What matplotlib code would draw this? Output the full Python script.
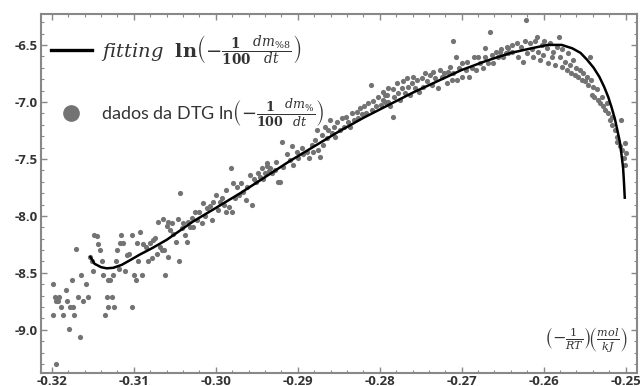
import numpy as np
import matplotlib
matplotlib.use("Agg")
import matplotlib.pyplot as plt
from matplotlib.lines import Line2D
from matplotlib.ticker import MultipleLocator

plt.rcParams["mathtext.fontset"] = "dejavuserif"

# DTG data points, (-1/RT, ln(-1/100 dm/dt))
dtg_x = [
    -0.3199, -0.3196, -0.3199, -0.3195, -0.3193, -0.3189, -0.3187, -0.3183, -0.3182, -0.3179,
    -0.3178, -0.3176, -0.3174, -0.3173, -0.3171, -0.3168, -0.3166, -0.3165, -0.3162, -0.3159,
    -0.3156, -0.3154, -0.3151, -0.3150, -0.3149, -0.3145, -0.3144, -0.3141, -0.3139, -0.3138,
    -0.3135, -0.3133, -0.3132, -0.3129, -0.3132, -0.3127, -0.3124, -0.3126, -0.3122, -0.3121,
    -0.3118, -0.3116, -0.3117, -0.3113, -0.3111, -0.3109, -0.3106, -0.3102, -0.3102, -0.3100,
    -0.3098, -0.3096, -0.3095, -0.3093, -0.3090, -0.3089, -0.3085, -0.3083, -0.3080, -0.3078,
    -0.3074, -0.3072, -0.3068, -0.3062, -0.3063, -0.3058, -0.3195, -0.3191,
    # -0.305 .. -0.292
    -0.3045, -0.3058, -0.3066, -0.3077, -0.3071, -0.3065, -0.3060, -0.3056, -0.3054, -0.3052,
    -0.3049, -0.3046, -0.3044, -0.3041, -0.3040, -0.3038, -0.3035, -0.3034, -0.3032, -0.3029,
    -0.3028, -0.3026, -0.3023, -0.3021, -0.3017, -0.3016, -0.3013, -0.3011, -0.3007, -0.3005,
    -0.3004, -0.3000, -0.2997, -0.2995, -0.2993, -0.2990, -0.2988, -0.2987, -0.2984, -0.2982,
    -0.2980, -0.2979, -0.2977, -0.2974, -0.2972, -0.2969, -0.2967, -0.2963, -0.2962, -0.2958,
    -0.2956, -0.2954, -0.2951, -0.2949, -0.2946, -0.2943, -0.2940, -0.2938, -0.2935, -0.2932,
    -0.2928, -0.2924,
    # -0.294 .. -0.279
    -0.2944, -0.2938, -0.2934, -0.2926, -0.2922, -0.2919, -0.2918, -0.2913, -0.2910, -0.2907,
    -0.2906, -0.2901, -0.2900, -0.2895, -0.2894, -0.2889, -0.2886, -0.2883, -0.2882, -0.2879,
    -0.2877, -0.2875, -0.2873, -0.2871, -0.2869, -0.2867, -0.2864, -0.2863, -0.2861, -0.2858,
    -0.2856, -0.2854, -0.2852, -0.2849, -0.2846, -0.2844, -0.2841, -0.2839, -0.2836, -0.2834,
    -0.2832, -0.2828, -0.2827, -0.2824, -0.2822, -0.2819, -0.2817, -0.2814, -0.2811, -0.2810,
    -0.2808, -0.2805, -0.2802, -0.2799, -0.2796, -0.2793, -0.2790,
    # -0.280 .. -0.264
    -0.2796, -0.2794, -0.2791, -0.2788, -0.2784, -0.2790, -0.2784, -0.2782, -0.2779, -0.2778,
    -0.2775, -0.2773, -0.2772, -0.2769, -0.2767, -0.2766, -0.2763, -0.2761, -0.2760, -0.2757,
    -0.2755, -0.2752, -0.2749, -0.2747, -0.2745, -0.2742, -0.2739, -0.2736, -0.2735, -0.2732,
    -0.2729, -0.2727, -0.2724, -0.2722, -0.2718, -0.2717, -0.2714, -0.2712, -0.2711, -0.2710,
    -0.2707, -0.2706, -0.2703, -0.2700, -0.2699, -0.2695, -0.2694, -0.2691, -0.2688, -0.2685,
    -0.2683, -0.2680, -0.2678, -0.2674, -0.2672, -0.2671, -0.2668, -0.2666, -0.2663, -0.2662,
    -0.2658, -0.2656, -0.2652, -0.2650, -0.2646, -0.2644,
    # -0.265 .. -0.250
    -0.2622, -0.2653, -0.2645, -0.2644, -0.2639, -0.2638, -0.2633, -0.2631, -0.2627, -0.2625,
    -0.2623, -0.2620, -0.2617, -0.2614, -0.2613, -0.2611, -0.2608, -0.2607, -0.2605, -0.2602,
    -0.2601, -0.2599, -0.2596, -0.2595, -0.2592, -0.2590, -0.2589, -0.2586, -0.2584, -0.2581,
    -0.2580, -0.2578, -0.2577, -0.2574, -0.2572, -0.2570, -0.2568, -0.2566, -0.2564, -0.2562,
    -0.2560, -0.2558, -0.2556, -0.2553, -0.2552, -0.2550, -0.2547, -0.2546, -0.2544, -0.2542,
    -0.2541, -0.2540, -0.2538, -0.2535, -0.2534, -0.2531, -0.2529, -0.2528, -0.2525, -0.2523,
    -0.2522, -0.2519, -0.2517, -0.2516, -0.2513, -0.2511, -0.2510, -0.2505, -0.2507, -0.2504,
    -0.2502, -0.2501, -0.2499, -0.2501,
]
dtg_y = [
    -8.60, -8.71, -8.87, -9.30, -8.75, -8.80, -8.87, -8.65, -8.75, -8.99,
    -8.80, -8.56, -8.80, -8.87, -8.29, -8.71, -9.06, -8.52, -8.75, -8.60,
    -8.71, -8.36, -8.40, -8.48, -8.17, -8.18, -8.25, -8.30, -8.40, -8.52,
    -8.87, -8.71, -8.56, -8.56, -8.80, -8.71, -8.80, -8.52, -8.40, -8.30,
    -8.47, -8.17, -8.24, -8.24, -8.48, -8.34, -8.33, -8.80, -8.17, -8.52,
    -8.56, -8.24, -8.40, -8.14, -8.52, -8.25, -8.27, -8.40, -8.24, -8.37,
    -8.19, -8.33, -8.27, -8.52, -8.30, -8.05, -8.75, -8.71,
    -8.40, -8.36, -8.30, -8.21, -8.05, -8.03, -8.09, -8.12, -8.06, -8.16,
    -8.23, -8.03, -7.80, -8.11, -8.06, -8.17, -8.23, -8.05, -8.10, -8.02,
    -8.10, -7.97, -8.04, -7.97, -8.06, -7.89, -8.00, -7.93, -7.91, -8.04,
    -7.88, -7.82, -7.95, -7.88, -7.84, -7.90, -7.97, -7.77, -7.92, -7.58,
    -7.97, -7.71, -7.84, -7.75, -7.82, -7.71, -7.79, -7.86, -7.75, -7.64,
    -7.90, -7.68, -7.70, -7.62, -7.66, -7.68, -7.62, -7.56, -7.61, -7.62,
    -7.60, -7.70,
    -7.58, -7.54, -7.58, -7.53, -7.70, -7.35, -7.57, -7.46, -7.51, -7.39,
    -7.55, -7.44, -7.49, -7.40, -7.46, -7.44, -7.49, -7.38, -7.44, -7.33,
    -7.25, -7.42, -7.48, -7.29, -7.38, -7.22, -7.32, -7.25, -7.16, -7.27,
    -7.22, -7.31, -7.18, -7.25, -7.14, -7.22, -7.13, -7.18, -7.22, -7.10,
    -7.16, -7.09, -7.14, -7.05, -7.11, -7.04, -7.10, -7.01, -6.85, -7.07,
    -6.99, -7.04, -6.96, -7.03, -6.98, -6.94, -7.00,
    -6.91, -7.00, -6.94, -7.04, -7.13, -6.88, -6.89, -6.96, -6.83, -6.92,
    -6.98, -6.88, -6.82, -6.92, -6.79, -6.87, -6.94, -6.83, -6.78, -6.88,
    -6.81, -6.91, -6.79, -6.87, -6.75, -6.82, -6.76, -6.85, -6.74, -6.79,
    -6.88, -6.72, -6.78, -6.75, -6.83, -6.74, -6.69, -6.81, -6.47, -6.75,
    -6.61, -6.81, -6.70, -6.78, -6.66, -6.72, -6.65, -6.78, -6.70, -6.61,
    -6.72, -6.61, -6.66, -6.70, -6.53, -6.61, -6.66, -6.39, -6.59, -6.66,
    -6.56, -6.61, -6.54, -6.61, -6.57, -6.53,
    -6.28, -6.56, -6.52, -6.57, -6.50, -6.56, -6.48, -6.61, -6.52, -6.65,
    -6.47, -6.57, -6.48, -6.54, -6.61, -6.47, -6.43, -6.56, -6.63, -6.50,
    -6.59, -6.47, -6.53, -6.66, -6.48, -6.61, -6.56, -6.68, -6.52, -6.43,
    -6.61, -6.69, -6.54, -6.65, -6.72, -6.57, -6.68, -6.75, -6.63, -6.76,
    -6.70, -6.78, -6.72, -6.81, -6.75, -6.82, -6.78, -6.85, -6.61, -6.81,
    -6.94, -6.87, -6.96, -6.89, -6.98, -7.01, -6.96, -7.04, -7.07, -7.01,
    -7.10, -7.16, -7.20, -7.13, -7.25, -7.31, -7.35, -7.16, -7.39, -7.42,
    -7.49, -7.36, -7.45, -7.55,
]

# fitted curve
fit_x = [-0.3153, -0.3148, -0.3140, -0.3133, -0.3125, -0.3115, -0.3105, -0.3093, -0.3077,
         -0.3060, -0.3044, -0.3028, -0.3000, -0.2970, -0.2940, -0.2910, -0.2880, -0.2850,
         -0.2820, -0.2790, -0.2760, -0.2730, -0.2700, -0.2670, -0.2640, -0.2615, -0.2595,
         -0.2578, -0.2565, -0.2555, -0.2547, -0.2539, -0.2532, -0.2526, -0.2521, -0.2517,
         -0.2513, -0.2510, -0.2507, -0.2505, -0.2503, -0.2502, -0.2501]
fit_y = [-8.36, -8.42, -8.45, -8.46, -8.455, -8.43, -8.39, -8.34, -8.28,
         -8.21, -8.13, -8.05, -7.93, -7.80, -7.66, -7.52, -7.39, -7.26,
         -7.14, -7.03, -6.92, -6.82, -6.72, -6.64, -6.57, -6.53, -6.50,
         -6.50, -6.53, -6.57, -6.63, -6.70, -6.78, -6.87, -6.96, -7.05,
         -7.15, -7.25, -7.35, -7.46, -7.58, -7.70, -7.84]

fig = plt.figure(figsize=(6.4, 3.86), dpi=100)
ax = fig.add_axes([0.064, 0.034, 0.931, 0.930])

ax.scatter(dtg_x, dtg_y, s=14, color="#737373", linewidths=0, zorder=2)
ax.plot(fit_x, fit_y, color="black", lw=1.8, zorder=3)

ax.set_xlim(-0.32134, -0.24863)
ax.set_ylim(-9.377, -6.228)
ax.xaxis.set_major_locator(MultipleLocator(0.01))
ax.xaxis.set_minor_locator(MultipleLocator(0.002))
ax.yaxis.set_major_locator(MultipleLocator(0.5))
ax.yaxis.set_minor_locator(MultipleLocator(0.1))
ax.xaxis.set_major_formatter(lambda v, p: f"{v:.2f}")
ax.yaxis.set_major_formatter(lambda v, p: f"{v:.1f}")
ax.tick_params(which="both", direction="in", top=True, right=True, color="#888888")
ax.tick_params(which="major", length=4, width=1)
ax.tick_params(which="minor", length=2, width=0.8)
ax.tick_params(axis="x", pad=1.5)
ax.tick_params(axis="y", pad=2)
for lab in ax.get_xticklabels() + ax.get_yticklabels():
    lab.set_fontfamily("Open Sans")
    lab.set_fontweight("bold")
    lab.set_fontsize(9.5)
    lab.set_color("#333333")
for sp in ax.spines.values():
    sp.set_color("#888888")
    sp.set_linewidth(1.5)

handles = [
    Line2D([], [], color="black", lw=2.4),
    Line2D([], [], ls="none", marker="o", ms=11, color="#737373"),
]
labels = [
    r"$\mathit{fitting}\ \ \mathbf{ln}\left(-\frac{\mathbf{1}}{\mathbf{100}}\frac{\mathit{dm}_{\%8}}{\mathit{dt}}\right)$",
    r"dados da DTG ln$\left(-\frac{\mathbf{1}}{\mathbf{100}}\frac{\mathit{dm}_{\%}}{\mathit{dt}}\right)$",
]
leg = ax.legend(handles, labels, loc="upper left", bbox_to_anchor=(-0.006, 0.985),
                frameon=False, handlelength=2.1, handletextpad=0.45, labelspacing=1.6,
                borderaxespad=0.3, prop={"family": "Open Sans", "size": 14})
for t in leg.get_texts():
    t.set_color("#333333")
leg.get_texts()[1].set_fontfamily("Lato")
leg.get_texts()[1].set_fontsize(13)

ax.text(0.985, 0.09, r"$\left(-\frac{1}{RT}\right)\!\left(\frac{mol}{kJ}\right)$",
        transform=ax.transAxes, ha="right", va="center", fontsize=11.5, color="#333333")

fig.savefig("out.png", dpi=100)
